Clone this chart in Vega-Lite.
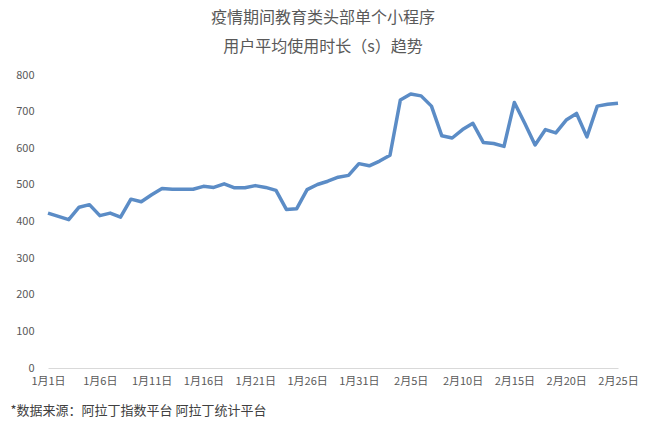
{
  "$schema": "https://vega.github.io/schema/vega-lite/v6.json",
  "width": 570,
  "height": 293,
  "autosize": {"type": "none"},
  "padding": {"left": 48, "top": 75, "right": 32, "bottom": 60},
  "background": "white",
  "config": {
    "font": "Noto Sans CJK SC",
    "view": {"stroke": null}
  },
  "title": {
    "text": ["疫情期间教育类头部单个小程序", "用户平均使用时长（s）趋势"],
    "anchor": "middle",
    "fontSize": 16,
    "fontWeight": "normal",
    "color": "#595959",
    "lineHeight": 29,
    "offset": 14,
    "dx": -10
  },
  "data": {
    "values": [
      {"date": "1月1日", "v": 423}, {"date": "1月2日", "v": 414}, {"date": "1月3日", "v": 405},
      {"date": "1月4日", "v": 439}, {"date": "1月5日", "v": 446}, {"date": "1月6日", "v": 416},
      {"date": "1月7日", "v": 423}, {"date": "1月8日", "v": 412}, {"date": "1月9日", "v": 461},
      {"date": "1月10日", "v": 454}, {"date": "1月11日", "v": 473}, {"date": "1月12日", "v": 490},
      {"date": "1月13日", "v": 488}, {"date": "1月14日", "v": 488}, {"date": "1月15日", "v": 488},
      {"date": "1月16日", "v": 496}, {"date": "1月17日", "v": 493}, {"date": "1月18日", "v": 503},
      {"date": "1月19日", "v": 492}, {"date": "1月20日", "v": 492}, {"date": "1月21日", "v": 498},
      {"date": "1月22日", "v": 493}, {"date": "1月23日", "v": 485}, {"date": "1月24日", "v": 433},
      {"date": "1月25日", "v": 435}, {"date": "1月26日", "v": 487}, {"date": "1月27日", "v": 501},
      {"date": "1月28日", "v": 510}, {"date": "1月29日", "v": 521}, {"date": "1月30日", "v": 526},
      {"date": "1月31日", "v": 558}, {"date": "2月1日", "v": 552}, {"date": "2月2日", "v": 565},
      {"date": "2月3日", "v": 581}, {"date": "2月4日", "v": 732}, {"date": "2月5日", "v": 748},
      {"date": "2月6日", "v": 743}, {"date": "2月7日", "v": 715}, {"date": "2月8日", "v": 634},
      {"date": "2月9日", "v": 628}, {"date": "2月10日", "v": 651}, {"date": "2月11日", "v": 668},
      {"date": "2月12日", "v": 616}, {"date": "2月13日", "v": 613}, {"date": "2月14日", "v": 605},
      {"date": "2月15日", "v": 725}, {"date": "2月16日", "v": 668}, {"date": "2月17日", "v": 609},
      {"date": "2月18日", "v": 651}, {"date": "2月19日", "v": 642}, {"date": "2月20日", "v": 677},
      {"date": "2月21日", "v": 695}, {"date": "2月22日", "v": 631}, {"date": "2月23日", "v": 715},
      {"date": "2月24日", "v": 720}, {"date": "2月25日", "v": 723}
    ]
  },
  "mark": {"type": "line", "color": "#5b8cc6", "strokeWidth": 3.5, "strokeJoin": "round"},
  "encoding": {
    "x": {
      "field": "date",
      "type": "ordinal",
      "sort": null,
      "scale": {"type": "point", "padding": 0},
      "axis": {
        "values": ["1月1日", "1月6日", "1月11日", "1月16日", "1月21日", "1月26日", "1月31日", "2月5日", "2月10日", "2月15日", "2月20日", "2月25日"],
        "labelAngle": 0,
        "labelColor": "#595959",
        "labelFontSize": 11,
        "labelPadding": 7,
        "ticks": false,
        "domainColor": "#d9d9d9",
        "domainWidth": 1,
        "grid": false,
        "title": "*数据来源：阿拉丁指数平台 阿拉丁统计平台",
        "titleAnchor": "start",
        "titleAlign": "left",
        "titleBaseline": "middle",
        "titleX": -38,
        "titleY": 42,
        "titleFontSize": 13,
        "titleFontWeight": "normal",
        "titleColor": "#404040"
      }
    },
    "y": {
      "field": "v",
      "type": "quantitative",
      "scale": {"domain": [0, 800]},
      "axis": {
        "values": [0, 100, 200, 300, 400, 500, 600, 700, 800],
        "labelColor": "#595959",
        "labelFontSize": 11,
        "labelPadding": 14,
        "ticks": false,
        "domain": false,
        "grid": false,
        "title": null
      }
    }
  }
}
